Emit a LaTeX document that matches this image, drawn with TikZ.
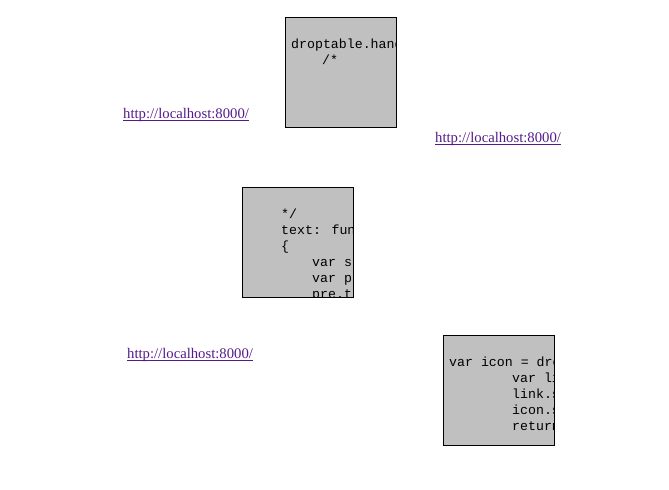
\documentclass[tikz,border=0pt]{standalone}
\usepackage{fontspec}
\setmainfont{Liberation Serif}
\newfontfamily\codefont{Liberation Mono}
\definecolor{boxgray}{HTML}{C0C0C0}
\definecolor{visited}{HTML}{551A8B}
\tikzset{
  x=1bp, y=1bp,
  codebox/.style={fill=boxgray, anchor=north west, inner sep=0pt, outer sep=0pt, minimum width=111bp, minimum height=110bp},
  boxedge/.style={draw=black, line width=1bp},
  code/.style={anchor=base west, inner sep=0pt, font=\codefont\fontsize{13.3}{16}\selectfont, text=black},
  link/.style={anchor=base west, inner sep=0pt, font=\fontsize{14.75}{18}\selectfont, text=visited},
  uline/.style={draw=visited, line width=1bp}
}
\begin{document}
\begin{tikzpicture}
\useasboundingbox (0,0) rectangle (669,490);
% box 1
\node[codebox] (b1) at (285.5,472.5) {};
\begin{scope}
\clip (b1.north west) rectangle (b1.south east);
\node[code] (b1l1) at (291,441.5) {droptable.handler};
\node[code] (b1l2) at (322,425) {/*};
\end{scope}
\draw[boxedge] (b1.north west) rectangle (b1.south east);
% box 2
\node[codebox] (b2) at (242.5,302.5) {};
\begin{scope}
\clip (b2.north west) rectangle (b2.south east);
\node[code] (b2l1) at (281,271) {*/};
\node[code] (b2l2) at (281,255) {text: function};
\node[code] (b2l3) at (281,239) {\{};
\node[code] (b2l4) at (312,223) {var s};
\node[code] (b2l5) at (312,207) {var p};
\node[code] (b2l6) at (312,191) {pre.t};
\end{scope}
\draw[boxedge] (b2.north west) rectangle (b2.south east);
% box 3
\node[codebox] (b3) at (443.5,154.5) {};
\begin{scope}
\clip (b3.north west) rectangle (b3.south east);
\node[code] (b3l1) at (449,123) {var icon = droptable};
\node[code] (b3l2) at (512,107) {var link};
\node[code] (b3l3) at (512,91) {link.set};
\node[code] (b3l4) at (512,75) {icon.set};
\node[code] (b3l5) at (512,59) {return};
\end{scope}
\draw[boxedge] (b3.north west) rectangle (b3.south east);
% links
\node[link] (l1) at (123,371.5) {http://localhost:8000/};
\draw[uline] ([yshift=-2bp]l1.base west) -- ([yshift=-2bp]l1.base east);
\node[link] (l2) at (435,347.5) {http://localhost:8000/};
\draw[uline] ([yshift=-2bp]l2.base west) -- ([yshift=-2bp]l2.base east);
\node[link] (l3) at (127,131.5) {http://localhost:8000/};
\draw[uline] ([yshift=-2bp]l3.base west) -- ([yshift=-2bp]l3.base east);
\end{tikzpicture}
\end{document}
